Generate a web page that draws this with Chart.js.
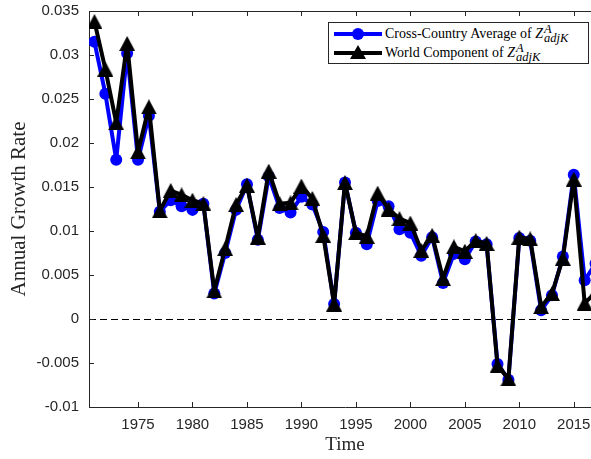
<!DOCTYPE html>
<html>
<head>
<meta charset="utf-8">
<script src="https://cdn.jsdelivr.net/npm/chart.js@4/dist/chart.umd.min.js"></script>
<style>
  html,body{margin:0;padding:0;background:#fff;overflow:hidden;}
  #wrap{position:relative;width:591px;height:459px;overflow:hidden;}
  #c{position:absolute;left:0;top:0;}
  #leg{position:absolute;left:328px;top:22px;width:259px;height:40px;border:1px solid #262626;background:#fff;
       font-family:'Liberation Serif','Times New Roman',serif;font-size:14px;color:#000;}
  .ln{position:absolute;left:5px;width:48px;height:4px;}
  .txt{position:absolute;left:56px;height:20px;line-height:20px;white-space:nowrap;}
  .ss{display:inline-block;vertical-align:middle;line-height:9.5px;font-size:12.5px;font-style:italic;margin-left:1px;position:relative;top:0px;}
  .ss span{display:block;}
</style>
</head>
<body>
<div id="wrap">
  <canvas id="c" width="601" height="459"></canvas>
  <div id="leg">
    <div class="ln" style="top:8.7px;background:#0000ff;"></div>
    <div style="position:absolute;left:23px;top:4.7px;width:12px;height:12px;border-radius:50%;background:#0000ff;"></div>
    <div class="txt" style="top:0.7px;">Cross-Country Average of <i>Z</i><span class="ss"><span>A</span><span>adjK</span></span></div>
    <div class="ln" style="top:27.7px;background:#000;"></div>
    <div style="position:absolute;left:21px;top:22px;width:0;height:0;border-left:8px solid transparent;border-right:8px solid transparent;border-bottom:14px solid #000;"></div>
    <div class="txt" style="top:19.7px;">World Component of <i>Z</i><span class="ss"><span>A</span><span>adjK</span></span></div>
  </div>
</div>
<script>
// ---- data ----
const years = [1971,1972,1973,1974,1975,1976,1977,1978,1979,1980,
               1981,1982,1983,1984,1985,1986,1987,1988,1989,1990,
               1991,1992,1993,1994,1995,1996,1997,1998,1999,2000,
               2001,2002,2003,2004,2005,2006,2007,2008,2009,2010,
               2011,2012,2013,2014,2015,2016,2017];
const crossCountryAvg = [0.0315,0.0256,0.0181,0.0302,0.0181,0.0231,0.0122,0.0135,0.0128,0.0124,
                         0.0131,0.0029,0.0075,0.0124,0.0153,0.0090,0.0162,0.0126,0.0121,0.0139,
                         0.0130,0.0099,0.0017,0.0155,0.0098,0.0085,0.0134,0.0128,0.0102,0.0098,
                         0.0072,0.0093,0.0041,0.0074,0.0068,0.0088,0.0085,-0.0051,-0.0069,0.0092,
                         0.0089,0.0010,0.0027,0.0071,0.0164,0.0044,0.0063];
const worldComponent  = [0.0338,0.0284,0.0223,0.0313,0.0190,0.0241,0.0123,0.0146,0.0141,0.0135,
                         0.0131,0.0032,0.0080,0.0130,0.0152,0.0093,0.0168,0.0131,0.0132,0.0151,
                         0.0137,0.0095,0.0017,0.0155,0.0098,0.0094,0.0143,0.0125,0.0114,0.0109,
                         0.0078,0.0095,0.0046,0.0082,0.0077,0.0089,0.0086,-0.0053,-0.0068,0.0093,
                         0.0091,0.0014,0.0029,0.0069,0.0159,0.0018,0.0030];
const xTickValues = [1975,1980,1985,1990,1995,2000,2005,2010,2015];
const xTickLabels = ['1975','1980','1985','1990','1995','2000','2005','2010','2015'];
const yTickValues = [-0.01,-0.005,0,0.005,0.01,0.015,0.02,0.025,0.03,0.035];
const yTickLabels = ['-0.01','-0.005','0','0.005','0.01','0.015','0.02','0.025','0.03','0.035'];
const seriesNames = ['Cross-Country Average of Z^A_adjK','World Component of Z^A_adjK'];

// ---- marker ----
function triangleMarker(w, h, color){
  const c = document.createElement('canvas');
  c.width = w; c.height = h;
  const g = c.getContext('2d');
  g.fillStyle = color;
  g.beginPath(); g.moveTo(w/2, 0); g.lineTo(w, h); g.lineTo(0, h); g.closePath(); g.fill();
  return c;
}
const tri = triangleMarker(16, 15, '#000000');

const axisColor = '#262626';

const frame = {
  id: 'frame',
  beforeDatasetsDraw(chart){
    const {ctx, chartArea:a, scales:{y}} = chart;
    const y0 = Math.round(y.getPixelForValue(0)) + 0.5;
    ctx.save();
    ctx.strokeStyle = '#000'; ctx.lineWidth = 1; ctx.setLineDash([7,4]);
    ctx.beginPath(); ctx.moveTo(a.left, y0); ctx.lineTo(a.right, y0); ctx.stroke();
    ctx.restore();
  },
  afterDraw(chart){
    const {ctx, chartArea:a, scales:{x, y}} = chart;
    ctx.save();
    ctx.strokeStyle = axisColor; ctx.lineWidth = 1;
    const top = Math.round(a.top) + 0.5;
    ctx.beginPath(); ctx.moveTo(a.left, top); ctx.lineTo(a.right, top); ctx.stroke();
    ctx.beginPath();
    xTickValues.forEach(v => {
      const px = Math.round(x.getPixelForValue(v)) + 0.5;
      ctx.moveTo(px, a.bottom); ctx.lineTo(px, a.bottom - 5);
      ctx.moveTo(px, a.top); ctx.lineTo(px, a.top + 5);
    });
    yTickValues.forEach(v => {
      const py = Math.round(y.getPixelForValue(v)) + 0.5;
      ctx.moveTo(a.left, py); ctx.lineTo(a.left + 5, py);
    });
    ctx.stroke();
    ctx.restore();
  }
};

new Chart(document.getElementById('c'), {
  type: 'line',
  data: {
    datasets: [
      {
        label: seriesNames[0],
        data: years.map((t,i)=>({x:t, y:crossCountryAvg[i]})),
        borderColor: '#0000ff', backgroundColor: '#0000ff',
        borderWidth: 4, pointRadius: 6, pointStyle: 'circle',
        pointBackgroundColor: '#0000ff', pointBorderWidth: 0,
        borderJoinStyle: 'round', borderCapStyle: 'round',
        tension: 0, order: 1
      },
      {
        label: seriesNames[1],
        data: years.map((t,i)=>({x:t, y:worldComponent[i]})),
        borderColor: '#000000', backgroundColor: '#000000',
        borderWidth: 4, pointRadius: 8, pointStyle: tri,
        borderJoinStyle: 'round', borderCapStyle: 'round',
        tension: 0, order: 0
      }
    ]
  },
  options: {
    responsive: false, animation: false, devicePixelRatio: 1,
    layout: {autoPadding: false, padding: {left: 0, right: 0, top: 11, bottom: 0}},
    plugins: {legend: {display: false}, tooltip: {enabled: false}},
    scales: {
      x: {
        type: 'linear', min: 1970.5, max: 2017.5,
        afterBuildTicks: s => { s.ticks = xTickValues.map(v => ({value: v})); },
        afterFit: s => { s.height = 52; s.paddingLeft = 0; s.paddingRight = 0; },
        grid: {drawOnChartArea: false, drawTicks: false},
        border: {display: true, color: axisColor, width: 1},
        ticks: {padding: 9, color: axisColor, autoSkip: false, maxRotation: 0,
                font: {family: "'Liberation Sans', Arial, sans-serif", size: 15},
                callback: (v, i) => xTickLabels[i]},
        title: {display: true, text: 'Time', color: axisColor,
                font: {family: "'Liberation Serif', 'Times New Roman', serif", size: 19},
                padding: {top: 0, bottom: 3}}
      },
      y: {
        min: -0.01, max: 0.035,
        afterBuildTicks: s => { s.ticks = yTickValues.map(v => ({value: v})); },
        afterFit: s => { s.width = 89; s.paddingTop = 0; s.paddingBottom = 0; },
        grid: {drawOnChartArea: false, drawTicks: false},
        border: {display: true, color: axisColor, width: 1},
        ticks: {padding: 10, color: axisColor, autoSkip: false,
                font: {family: "'Liberation Sans', Arial, sans-serif", size: 15},
                callback: (v, i) => yTickLabels[i]},
        title: {display: true, text: 'Annual Growth Rate', color: axisColor,
                font: {family: "'Liberation Serif', 'Times New Roman', serif", size: 21},
                padding: {top: 7, bottom: 0}}
      }
    }
  },
  plugins: [frame]
});
</script>
</body>
</html>
